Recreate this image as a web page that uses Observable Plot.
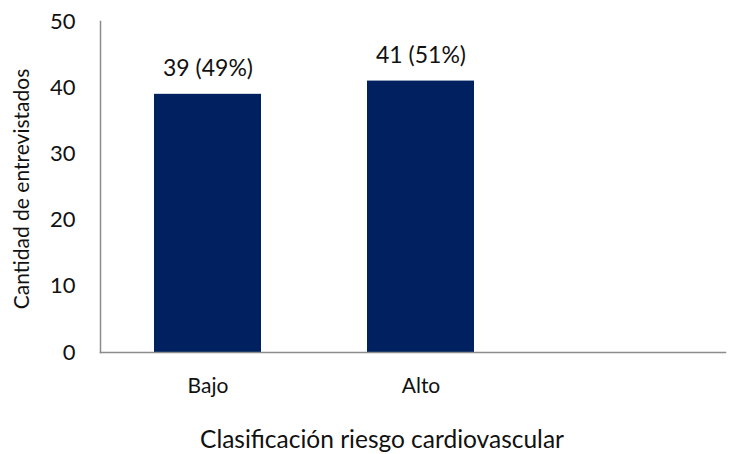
<!DOCTYPE html>
<html>
<head>
<meta charset="utf-8">
<script src="https://cdn.jsdelivr.net/npm/d3@7"></script>
<script src="https://cdn.jsdelivr.net/npm/@observablehq/plot@0.6"></script>
<style>
  html, body { margin: 0; padding: 0; background: #fff; }
  #chart svg { display: block; }
</style>
</head>
<body>
<div id="chart"></div>
<script>
const categories = ["Bajo", "Alto"];
const counts = [39, 41];
const percents = [49, 51];
const yTicks = [0, 10, 20, 30, 40, 50];
const yTitle = "Cantidad de entrevistados";
const xTitle = "Clasificación riesgo cardiovascular";

const data = categories.map((c, i) => ({
  category: c,
  count: counts[i],
  label: `${counts[i]} (${percents[i]}%)`
}));

const font = "Lato, 'Open Sans', sans-serif";
const axisColor = "#8c8c8c";

const chart = Plot.plot({
  width: 730,
  height: 454,
  marginLeft: 100,
  marginRight: 5,
  marginTop: 21,
  marginBottom: 102,
  style: { fontFamily: font, background: "#fff", color: "#111" },
  x: { domain: categories, range: [100, 527], paddingInner: 0.5, paddingOuter: 0.25, label: null },
  y: { domain: [0, 50], label: null },
  marks: [
    Plot.barY(data, { x: "category", y: "count", fill: "#002060" }),
    Plot.text(data, {
      x: "category", y: "count", text: "label",
      lineAnchor: "bottom", dy: -18, fontSize: 23, fill: "#111"
    }),
    Plot.axisY({ ticks: yTicks, tickSize: 0, tickPadding: 25, fontSize: 22, label: null, fill: "#111" }),
    Plot.axisX({ tickSize: 0, tickPadding: 26, fontSize: 21, label: null, fill: "#111" }),
    Plot.frame({ anchor: "left", stroke: axisColor, strokeWidth: 1.5 }),
    Plot.frame({ anchor: "bottom", stroke: axisColor, strokeWidth: 1.5 }),
    Plot.text([yTitle], {
      frameAnchor: "left", rotate: -90, dx: -78, dy: 2,
      fontSize: 21, fill: "#111", textAnchor: "middle", lineAnchor: "middle"
    }),
    Plot.text([xTitle], {
      frameAnchor: "bottom", dx: -31, dy: 88,
      fontSize: 24.5, fill: "#111", textAnchor: "middle", lineAnchor: "middle"
    })
  ]
});

document.getElementById("chart").appendChild(chart);
</script>
</body>
</html>
